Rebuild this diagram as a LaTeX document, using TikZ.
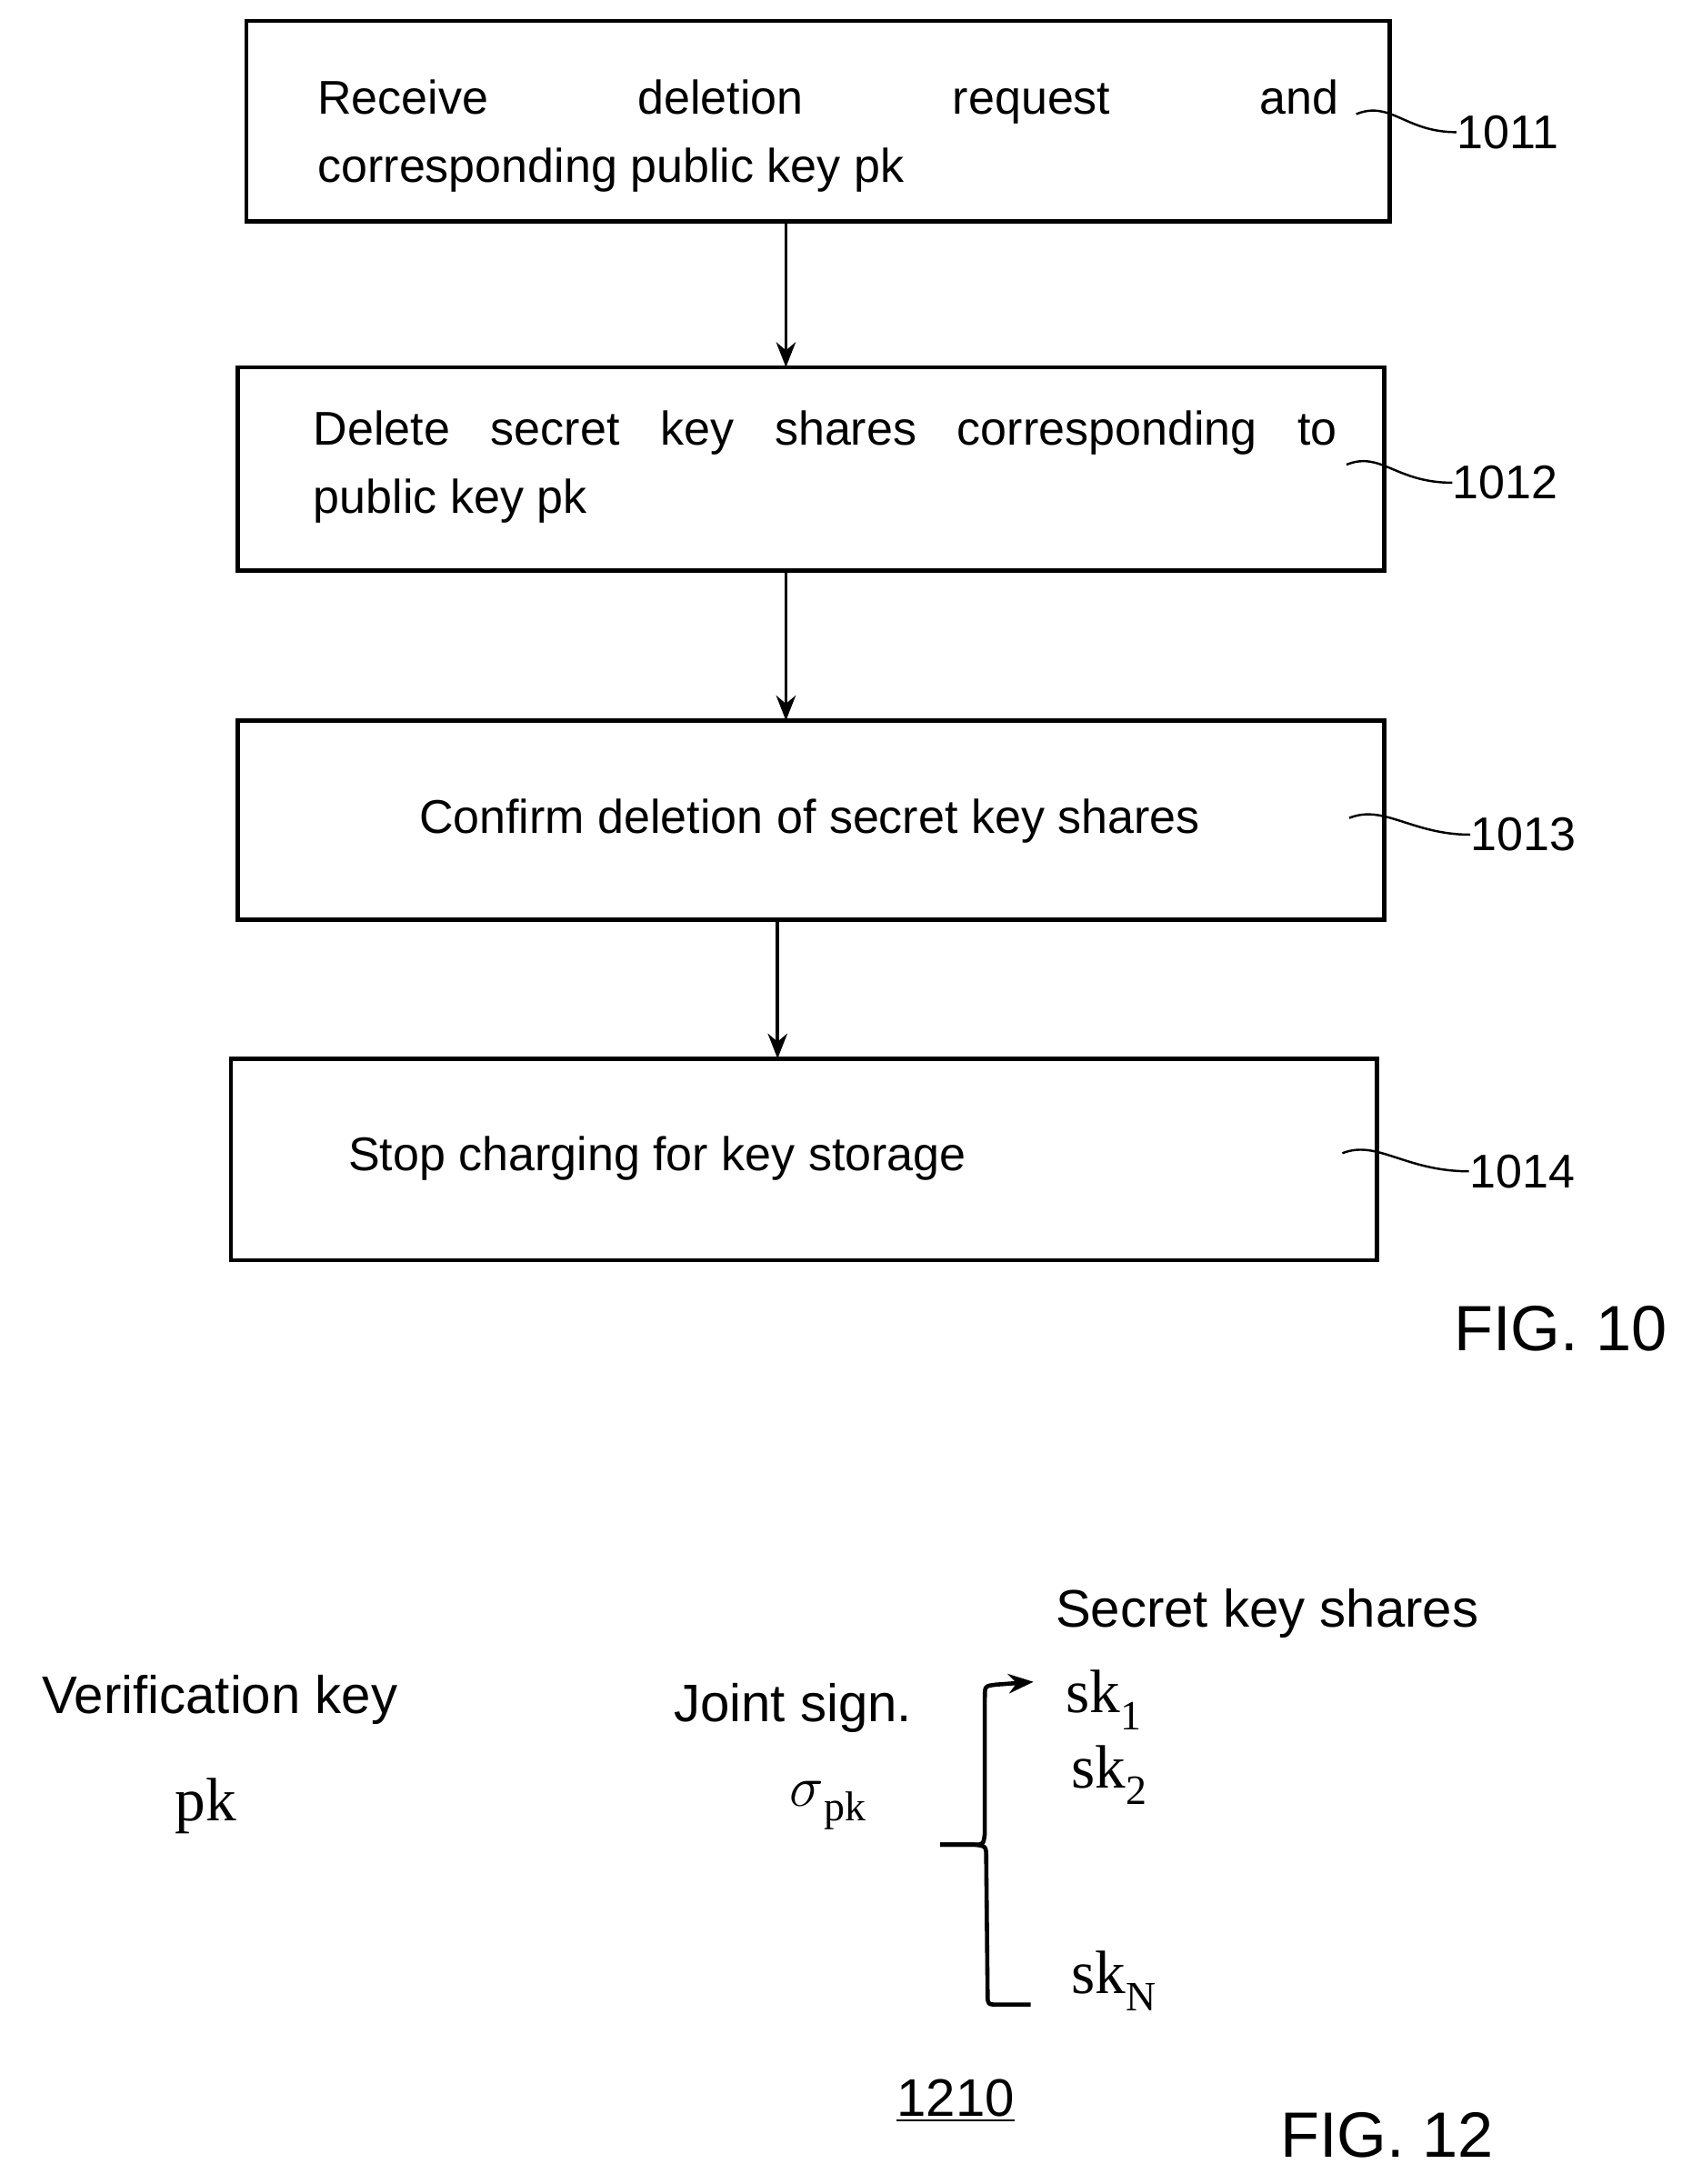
\documentclass[tikz,border=0pt]{standalone}
\usepackage{fontspec}
\setmainfont{Liberation Sans}
\newfontfamily\serif{Liberation Serif}
\usetikzlibrary{arrows.meta}
\begin{document}
\begin{tikzpicture}[x=0.5pt,y=-0.5pt,
  box/.style={draw,line width=1.5pt},
  arr/.style={line width=1.2pt,-{Stealth[length=9pt,width=7pt]}},
  sq/.style={line width=0.8pt},
  txt/.style={font=\fontsize{17}{24}\selectfont,inner sep=0,anchor=west},
  lab/.style={font=\fontsize{17}{20}\selectfont,inner sep=0},
  fig/.style={font=\fontsize{23}{26}\selectfont,inner sep=0},
  sr/.style={font=\serif\fontsize{22}{24}\selectfont,inner sep=0}]
\useasboundingbox (0,0) rectangle (1216,1570);
% boxes
\node[box,minimum width=411pt,minimum height=72pt,inner sep=0] (b1) at (588,87) {};
\node[box,minimum width=412pt,minimum height=73pt,inner sep=0] (b2) at (583,337) {};
\node[box,minimum width=412pt,minimum height=71.5pt,inner sep=0] (b3) at (583,589.5) {};
\node[box,minimum width=412pt,minimum height=72.5pt,inner sep=0] (b4) at (578,833.5) {};
\node[txt] (t1a) at (228,73) {\hbox to 367pt{Receive\hfill deletion\hfill request\hfill and}};
\node[txt] (t1b) at (228,122) {corresponding public key pk};
\node[txt] (t2a) at (225,311) {\hbox to 368pt{Delete\hfill secret\hfill key\hfill shares\hfill corresponding\hfill to}};
\node[txt] (t2b) at (225,360) {public key pk};
\node[txt,anchor=center] (t3) at (582,590) {Confirm deletion of secret key shares};
\node[txt] (t4) at (250,833) {Stop charging for key storage};
% arrows
\coordinate (a1s) at (565,159); \coordinate (a1e) at (565,264);
\coordinate (a2s) at (565,410); \coordinate (a2e) at (565,518);
\coordinate (a3s) at (559,661); \coordinate (a3e) at (559,761);
\draw[arr] (a1s) -- (a1e);
\draw[arr] (a2s) -- (a2e);
\draw[arr] (a3s) -- (a3e);
% labels
\node[lab,anchor=west] (l1) at (1047,95) {1011};
\node[lab,anchor=west] (l2) at (1044,347) {1012};
\node[lab,anchor=west] (l3) at (1057,600) {1013};
\node[lab,anchor=west] (l4) at (1056,842) {1014};
\coordinate (s1) at (975,82); \coordinate (s2) at (968,334);
\coordinate (s3) at (970,588); \coordinate (s4) at (965,829);
\draw[sq] (s1) .. controls (1000,72) and (1010,95) .. (l1.west);
\draw[sq] (s2) .. controls (993,324) and (1003,347) .. (l2.west);
\draw[sq] (s3) .. controls (995,578) and (1015,600) .. (l3.west);
\draw[sq] (s4) .. controls (990,819) and (1010,842) .. (l4.west);
\node[fig] (f10) at (1122,955) {FIG. 10};
% FIG 12
\node[lab,font=\fontsize{19}{22}\selectfont] (sks) at (911,1160) {Secret key shares};
\node[lab,font=\fontsize{19}{22}\selectfont] (vk) at (158,1222) {Verification key};
\node[lab,font=\fontsize{19}{22}\selectfont] (js) at (570,1228) {Joint sign.};
\node[sr] (pk) at (148,1298) {pk};
\node[sr] (sig) at (595,1298) {$\sigma$\raisebox{-0.5ex}{\fontsize{15}{16}\selectfont pk}};
\node[sr,anchor=west] (sk1) at (766,1222) {sk\raisebox{-0.6ex}{\fontsize{15}{16}\selectfont 1}};
\node[sr,anchor=west] (sk2) at (770,1276) {sk\raisebox{-0.6ex}{\fontsize{15}{16}\selectfont 2}};
\node[sr,anchor=west] (skN) at (770,1424) {sk\raisebox{-0.6ex}{\fontsize{15}{16}\selectfont N}};
\coordinate (bm) at (676,1326); \coordinate (bt) at (743,1209); \coordinate (bb) at (741,1441);
\draw[line width=1.5pt,-{Stealth[length=9pt,width=7pt]}] (bm) -- (700,1326) .. controls (707,1326) .. (708,1318) -- (708,1220) .. controls (708,1212) .. (716,1211) -- (bt);
\draw[line width=1.5pt] (bm) -- (700,1326) .. controls (709,1327) .. (709,1336) -- (710,1434) .. controls (710,1441) .. (718,1441) -- (bb);
\node[lab,font=\fontsize{19}{22}\selectfont] (n1210) at (687,1510) {\underline{1210}};
\node[fig] (f12) at (997,1535) {FIG. 12};
\end{tikzpicture}
\end{document}
